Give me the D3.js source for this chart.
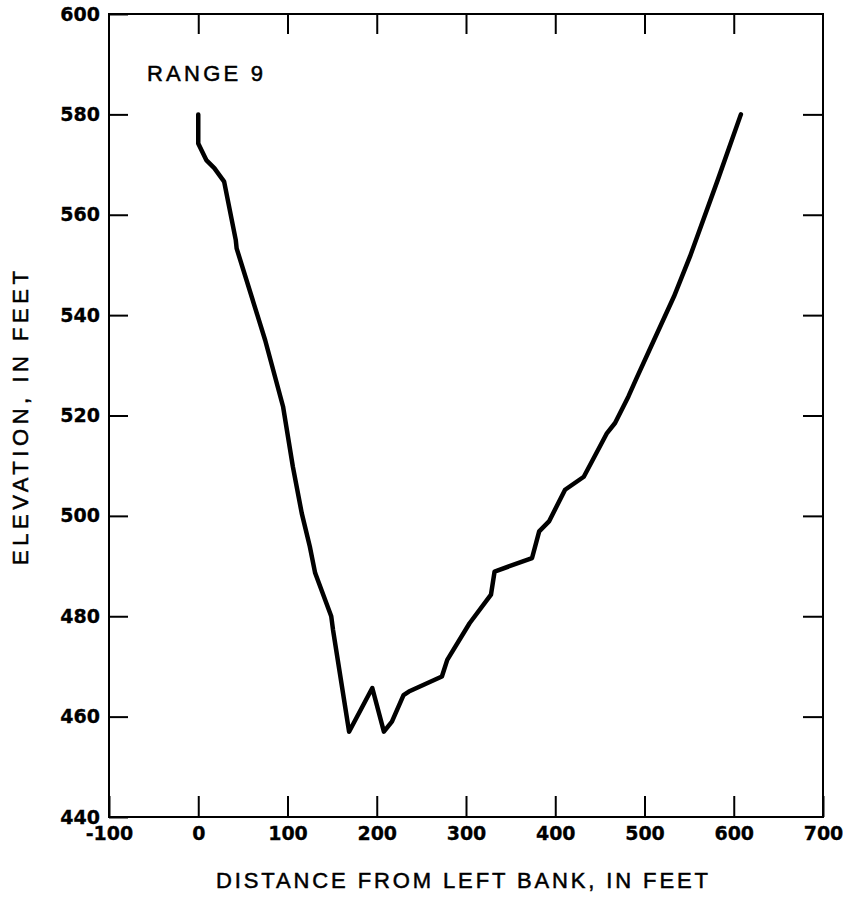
<!DOCTYPE html>
<html>
<head>
<meta charset="utf-8">
<script src="https://cdn.jsdelivr.net/npm/d3@7"></script>
<style>
  body { margin: 0; background: #fff; }
  svg { display: block; }
</style>
</head>
<body>
<svg id="chart" width="843" height="901"></svg>
<script>
// Cross-section profile
const distance = [0, 0, 9, 18, 29, 42, 43, 75, 95, 106, 116, 125, 131, 149, 151, 169, 195, 208, 217, 230, 236, 273, 279, 304, 328, 332, 374, 382, 393, 411, 432, 458, 467, 482, 491, 509, 533, 551, 582, 608];
const elevation = [580, 574.2, 570.9, 569.3, 566.6, 555, 553.3, 535, 521.8, 509.8, 500.5, 493.9, 488.6, 480, 477.3, 457, 465.7, 457, 459, 464.3, 465, 468, 471.3, 478.6, 484.3, 488.9, 491.6, 496.9, 498.9, 505.2, 507.8, 516.5, 518.5, 523.8, 527.4, 534.4, 543.7, 551.7, 566.9, 580];
const xTicks = [-100, 0, 100, 200, 300, 400, 500, 600, 700];
const yTicks = [440, 460, 480, 500, 520, 540, 560, 580, 600];
const rangeLabel = 'RANGE 9';

const svg = d3.select('#chart');
const plotLeft = 109, plotRight = 823, plotTop = 14, plotBottom = 817;

const x = d3.scaleLinear().domain([-100, 700]).range([plotLeft, plotRight]);
const y = d3.scaleLinear().domain([440, 600]).range([plotBottom, plotTop]);

const tickFont = g => g.selectAll('text')
  .attr('font-family', '"DejaVu Sans", sans-serif')
  .attr('font-weight', 'bold')
  .attr('font-size', 19)
  .attr('fill', '#000')
  .attr('stroke', '#000')
  .attr('stroke-width', 0.3);

const tickLines = g => g.selectAll('line').attr('stroke', '#000').attr('stroke-width', 2);

// bottom axis with labels, ticks pointing inward
svg.append('g')
  .attr('transform', `translate(0,${plotBottom})`)
  .call(d3.axisBottom(x).tickValues(xTicks).tickSize(-21).tickPadding(10).tickFormat(d => String(d)))
  .call(g => g.select('.domain').remove())
  .call(tickFont)
  .call(tickLines);

// top axis, ticks only
svg.append('g')
  .attr('transform', `translate(0,${plotTop})`)
  .call(d3.axisTop(x).tickValues(xTicks.slice(1, -1)).tickSize(-20).tickFormat(''))
  .call(g => g.select('.domain').remove())
  .call(tickLines);

// left axis with labels
svg.append('g')
  .attr('transform', `translate(${plotLeft},0)`)
  .call(d3.axisLeft(y).tickValues(yTicks).tickSize(-19).tickPadding(9).tickFormat(d => String(d)))
  .call(g => g.select('.domain').remove())
  .call(tickFont)
  .call(tickLines);

// right axis, ticks only
svg.append('g')
  .attr('transform', `translate(${plotRight},0)`)
  .call(d3.axisRight(y).tickValues(yTicks.slice(1, -1)).tickSize(-20).tickFormat(''))
  .call(g => g.select('.domain').remove())
  .call(tickLines);

// frame
svg.append('rect')
  .attr('x', plotLeft).attr('y', plotTop)
  .attr('width', plotRight - plotLeft).attr('height', plotBottom - plotTop)
  .attr('fill', 'none').attr('stroke', '#000').attr('stroke-width', 2);

// profile line
const pts = distance.map((d, i) => [d, elevation[i]]);
const line = d3.line().x(d => x(d[0])).y(d => y(d[1]));

svg.append('path')
  .datum(pts)
  .attr('d', line)
  .attr('fill', 'none')
  .attr('stroke', '#000')
  .attr('stroke-width', 4.5)
  .attr('stroke-linejoin', 'round')
  .attr('stroke-linecap', 'round');

// labels
const label = (sel, len) => sel
  .attr('font-family', '"Liberation Sans", Arial, sans-serif')
  .attr('font-size', 22)
  .attr('fill', '#000')
  .attr('stroke', '#000')
  .attr('stroke-width', 0.5)
  .attr('textLength', len)
  .attr('lengthAdjust', 'spacing');

svg.append('text')
  .attr('x', 147).attr('y', 81)
  .call(label, 116)
  .text(rangeLabel);

svg.append('text')
  .attr('x', 216).attr('y', 888)
  .call(label, 492)
  .text('DISTANCE FROM LEFT BANK, IN FEET');

svg.append('text')
  .attr('transform', 'translate(28,565) rotate(-90)')
  .call(label, 294)
  .text('ELEVATION, IN FEET');
</script>
</body>
</html>
